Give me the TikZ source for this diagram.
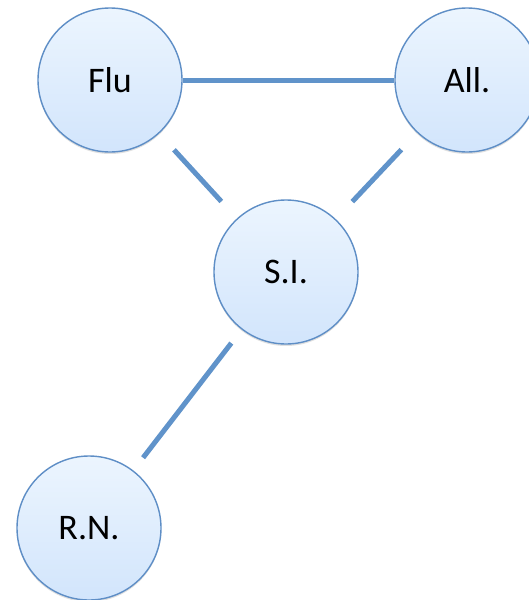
\documentclass[tikz,border=0pt]{standalone}
\usepackage{fontspec}
\setmainfont{Carlito}
\usetikzlibrary{shadows}
\definecolor{edgeblue}{RGB}{94,142,198}
\definecolor{linkblue}{RGB}{96,147,202}
\definecolor{filltop}{RGB}{236,245,254}
\definecolor{fillbot}{RGB}{210,229,252}
\begin{document}
\begin{tikzpicture}[x=1pt,y=-1pt,
  term/.style={circle, draw=edgeblue, line width=1.4pt, minimum size=144pt, inner sep=0pt,
    top color=filltop, bottom color=fillbot,
    drop shadow={shadow xshift=0pt, shadow yshift=-2pt, fill=black, opacity=0.12},
    font=\fontsize{36}{42}\selectfont, text=black},
  link/.style={draw=linkblue, line width=5pt, line cap=butt}]
  \clip (0,0) rectangle (529,600);
  \fill[white] (0,0) rectangle (529,600);
  % the four terms
  \node[term] (flu) at (110,80)  {Flu};
  \node[term] (all) at (467,80)  {All.};
  \node[term] (si)  at (286,272) {S.I.};
  \node[term] (rn)  at (89,528)  {R.N.};
  % links between them
  \draw[link] (flu) -- (all);
  \draw[link, shorten <=22pt, shorten >=23pt] (flu) -- (si);
  \draw[link, shorten <=23pt, shorten >=24pt] (all) -- (si);
  \draw[link, shorten <=17pt, shorten >=16pt] (si) -- (rn);
\end{tikzpicture}
\end{document}
